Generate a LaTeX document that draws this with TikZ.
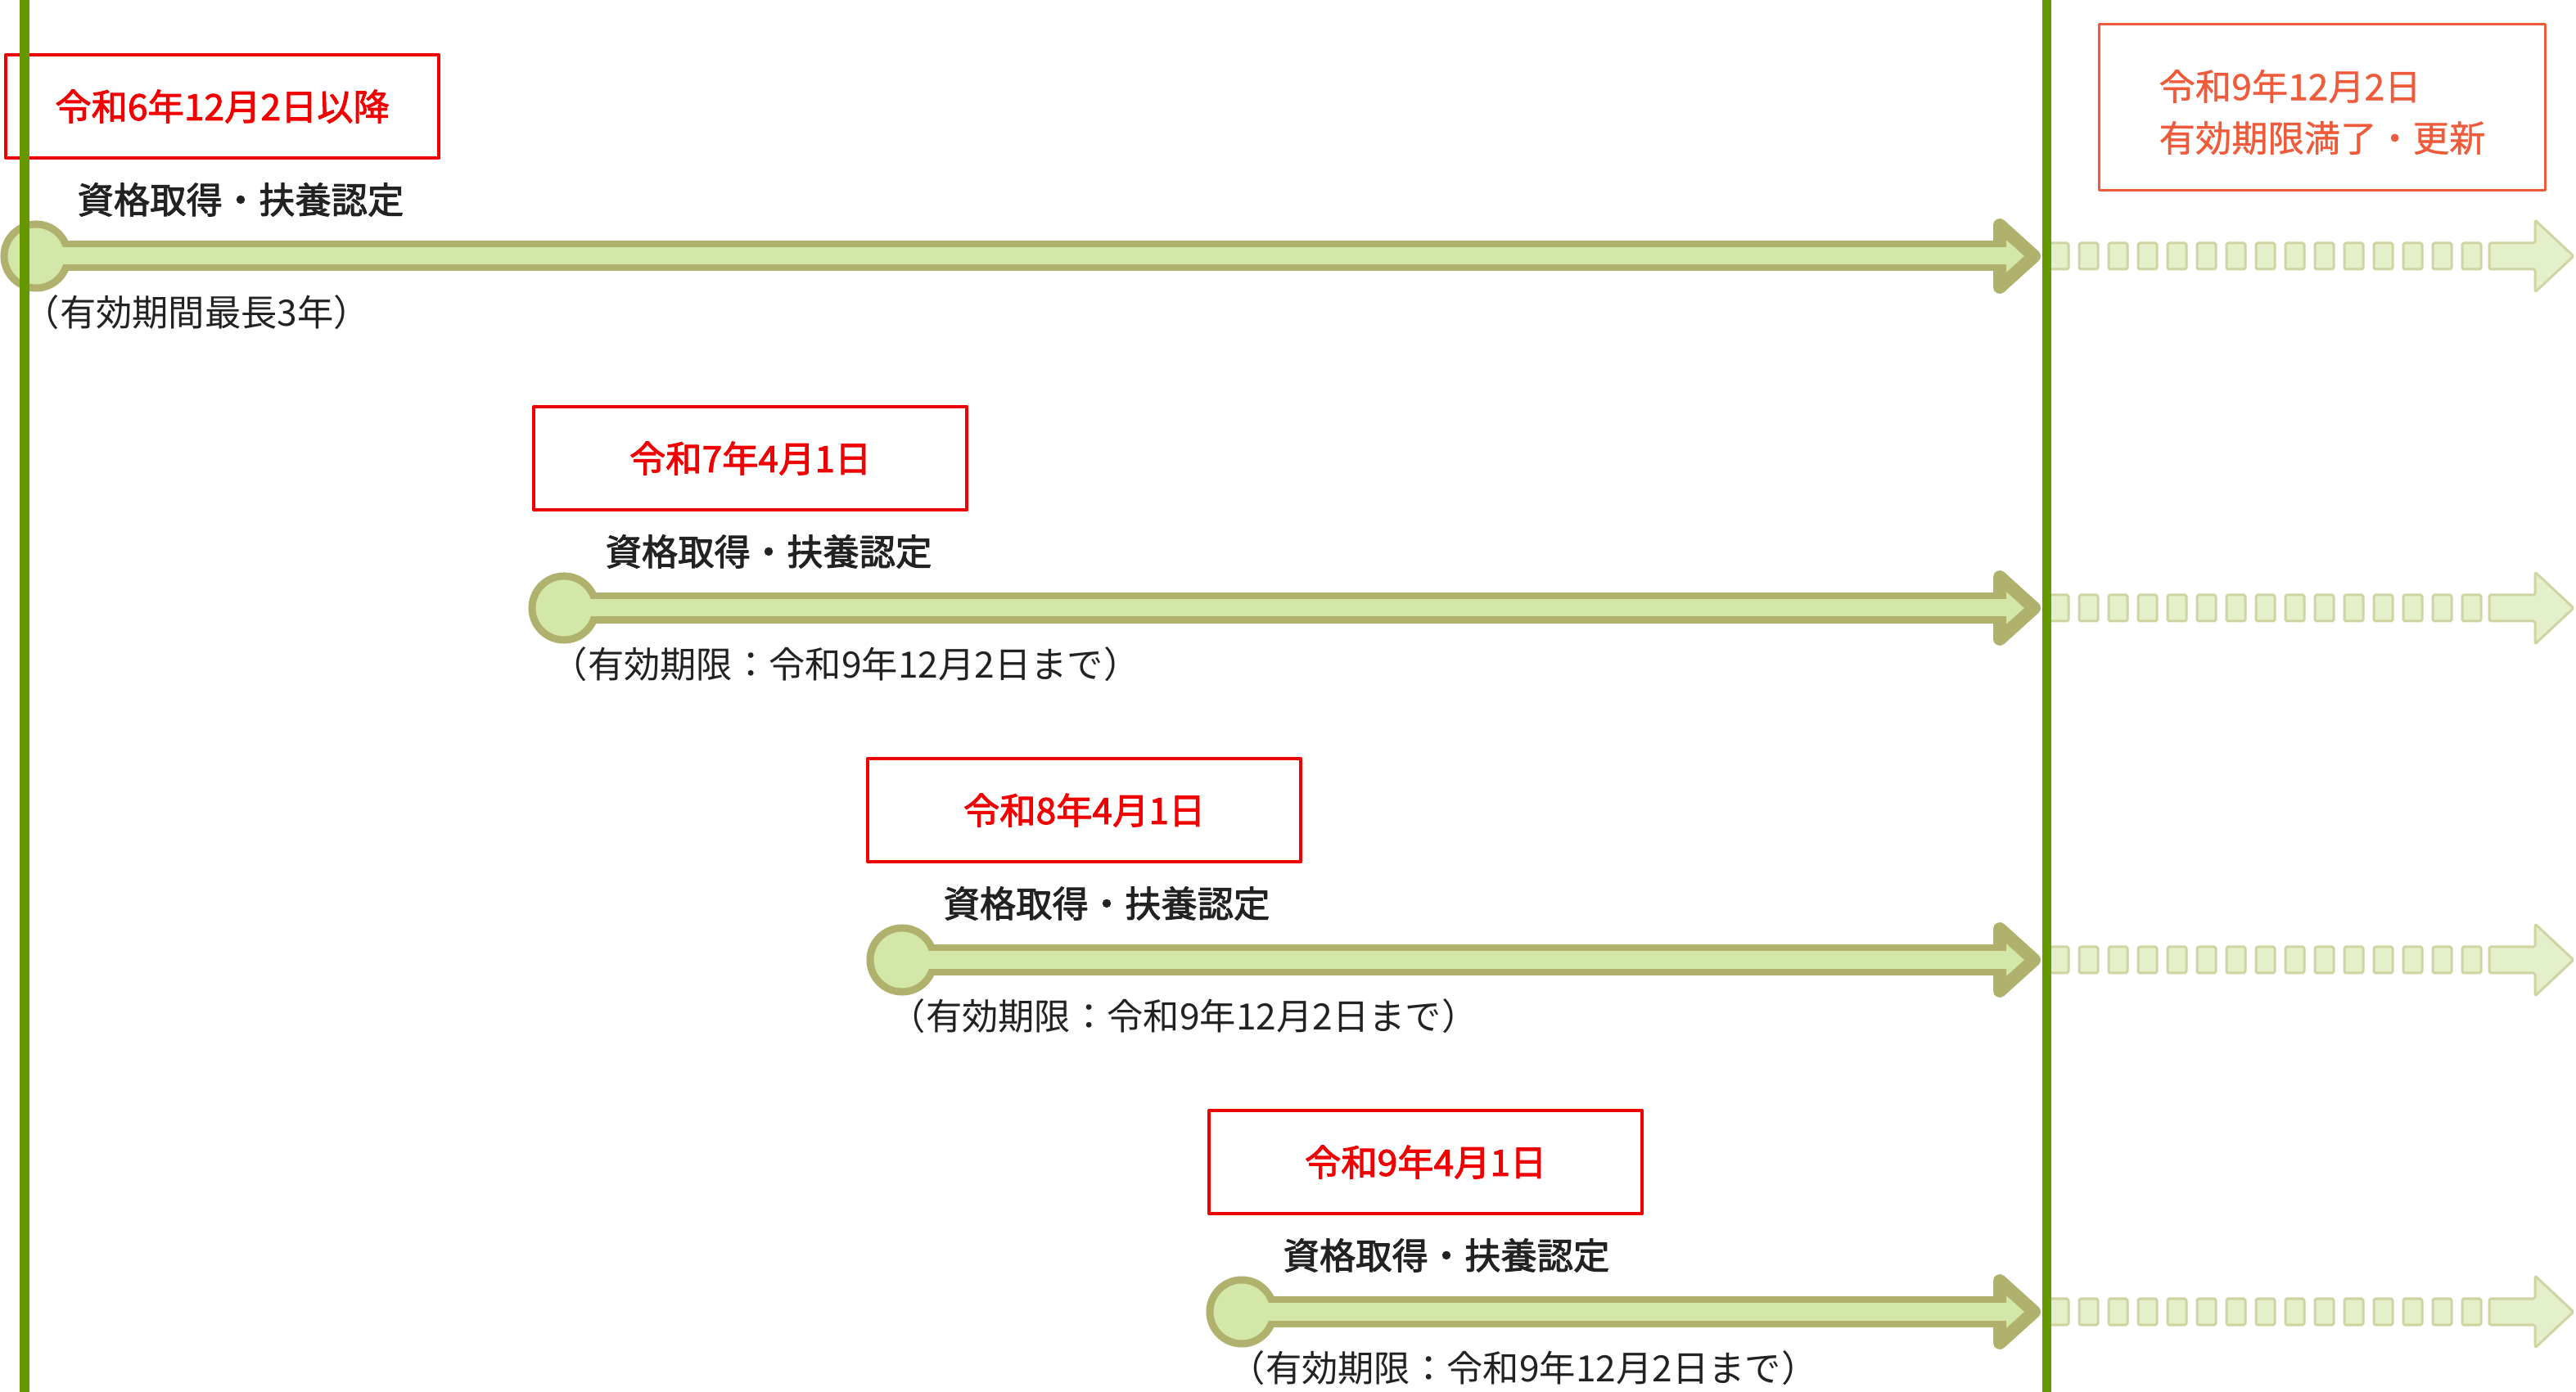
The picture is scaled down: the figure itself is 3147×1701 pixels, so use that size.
\documentclass[tikz,border=0pt]{standalone}
\usepackage{fontspec}
\setmainfont{Noto Sans CJK JP}
\newfontfamily\midweight{Noto Sans CJK JP}[FakeBold=2.2]
\newfontfamily\lightweight{Noto Sans CJK JP}[FakeBold=0.8]
\usetikzlibrary{positioning}

\definecolor{barfill}{HTML}{D3E8A8}
\definecolor{barline}{HTML}{B1B16E}
\definecolor{fadefill}{HTML}{E3F0CA}
\definecolor{fadeline}{HTML}{D0D4A2}
\definecolor{rulegreen}{HTML}{669900}
\definecolor{datered}{HTML}{F00000}
\definecolor{endred}{HTML}{EE5A3A}
\definecolor{inktext}{HTML}{222222}

\begin{document}
\begin{tikzpicture}[x=0.01cm,y=-0.01cm,line join=round,
  datebox/.style={draw=datered,line width=0.04cm,minimum width=5.29cm,minimum height=1.26cm,
    anchor=north west,text=datered,font=\midweight\fontsize{12.6pt}{15pt}\selectfont},
  endbox/.style={draw=endred,line width=0.03cm,minimum width=5.44cm,minimum height=2.02cm},
  endtext/.style={text=endred,align=left,inner sep=0pt,font=\lightweight\fontsize{12.6pt}{17.9pt}\selectfont},
  startdot/.style={circle,fill=barfill,draw=barline,line width=0.09cm,minimum size=0.78cm,inner sep=0pt},
  shaftout/.style={barline,line width=0.37cm},
  shaftin/.style={barfill,line width=0.21cm},
  headtip/.style={fill=barfill,draw=barline,line width=0.16cm},
  fadebox/.style={fill=fadefill,draw=fadeline,line width=0.03cm,rounded corners=0.5pt},
  steplabel/.style={text=inktext,inner sep=0pt,font=\midweight\fontsize{12.6pt}{15pt}\selectfont},
  sublabel/.style={text=inktext,inner sep=0pt,anchor=west,font=\fontsize{12.6pt}{15pt}\selectfont}]
  \useasboundingbox (0,0) rectangle (3147,1701);
  % 資格取得の行
  \foreach \i/\cx/\bx/\date/\sub in {
      1/44/5/令和6年12月2日以降/（有効期間最長3年）,
      2/689/650/令和7年4月1日/（有効期限：令和9年12月2日まで）,
      3/1102/1058/令和8年4月1日/（有効期限：令和9年12月2日まで）,
      4/1517/1475/令和9年4月1日/（有効期限：令和9年12月2日まで）}{
    \pgfmathsetmacro\ry{313+430*(\i-1)}
    \coordinate (o\i) at (\cx,\ry);
    \coordinate (b\i) at (2443,\ry);
    \coordinate (t\i) at (2485,\ry);
    \draw[shaftout] (o\i) -- (b\i);
    \node[startdot] (c\i) at (o\i) {};
    \draw[headtip] (2443,\ry-38) -- (t\i) -- (2443,\ry+38) -- cycle;
    \draw[shaftin] (c\i.center) -- (2462,\ry);
    % 更新後（点線）
    \foreach \k in {0,...,14}
      \draw[fadebox] (2504+36*\k,\ry-16) rectangle ++(23,32);
    \draw[fadebox] (3041,\ry-16) -- (3097,\ry-16) -- (3097,\ry-44) -- (3144,\ry)
      -- (3097,\ry+44) -- (3097,\ry+16) -- (3041,\ry+16) -- cycle;
    \node[datebox] (d\i) at (\bx,\ry-248) {\date};
    \node[steplabel] (a\i) at (\cx+250,\ry-69) {資格取得・扶養認定};
    \node[sublabel] (p\i) at (\cx-16,\ry+69) {\sub};
  }
  % 期限の縦線
  \draw[rulegreen,line width=0.11cm] (30,0) -- (30,1701);
  \draw[rulegreen,line width=0.11cm] (2500,0) -- (2500,1701);
  \node[endbox] (fin) at (2837,131) {};
  \node[endtext] (fintext) at (2837,137) {令和9年12月2日\\有効期限満了・更新};
\end{tikzpicture}
\end{document}
